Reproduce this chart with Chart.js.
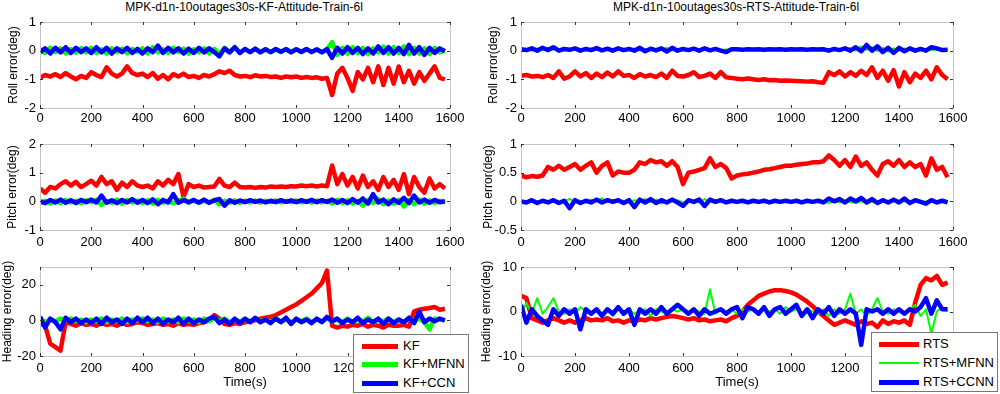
<!DOCTYPE html>
<html>
<head>
<meta charset="utf-8">
<script src="https://cdn.jsdelivr.net/npm/chart.js@4.4.0/dist/chart.umd.min.js"></script>
<style>
  body { margin: 0; background: #fff; }
  #wrap { position: relative; width: 1000px; height: 394px; overflow: hidden; font-family: "Liberation Sans", Arial, sans-serif; color: #000; }
  canvas { position: absolute; }
  .title { position: absolute; top: 0; font-size: 12px; line-height: 15px; white-space: nowrap; transform: translateX(-50%); }
  .legend { position: absolute; background: #fff; border: 1px solid #777; font-size: 13px; z-index: 5; }
  .legend .row { position: absolute; left: 0; right: 0; height: 16px; line-height: 16px; }
  .legend .sw { position: absolute; }
  .legend .lbl { position: absolute; white-space: nowrap; }
</style>
</head>
<body>
<div id="wrap">
  <div class="title" style="left:244px">MPK-d1n-10outages30s-KF-Attitude-Train-6l</div>
  <div class="title" style="left:736px">MPK-d1n-10outages30s-RTS-Attitude-Train-6l</div>
  <canvas id="p1"></canvas>
  <canvas id="p2"></canvas>
  <canvas id="p3"></canvas>
  <canvas id="p4"></canvas>
  <canvas id="p5"></canvas>
  <canvas id="p6"></canvas>
  <div class="legend" id="legKF" style="left:353px;top:334px;width:114px;height:57px"></div>
  <div class="legend" id="legRTS" style="left:871px;top:332px;width:125px;height:58px"></div>
</div>
<script>
// time axis (s), one sample every 20 s
const time = [0,20,40,60,80,100,120,140,160,180,200,220,240,260,280,300,320,340,360,380,
  400,420,440,460,480,500,520,540,560,580,600,620,640,660,680,700,720,740,760,780,
  800,820,840,860,880,900,920,940,960,980,1000,1020,1040,1060,1080,1100,1120,1140,1160,1180,
  1200,1220,1240,1260,1280,1300,1320,1340,1360,1380,1400,1420,1440,1460,1480,1500,1520,1540,1560,1580];

const xTicks = [0,200,400,600,800,1000,1200,1400,1600];
const rollTicks = [-2,-1,0,1];
const pitchTicksKF = [-1,0,1,2];
const pitchTicksRTS = [-0.5,0,0.5,1];
const headTicksKF = [-20,0,20];
const headTicksRTS = [-10,0,10];

const kfNames = ['KF','KF+MFNN','KF+CCN'];
const rtsNames = ['RTS','RTS+MFNN','RTS+CCNN'];

// roll, KF side
const rollKF = [-0.95,-0.85,-0.9,-0.82,-0.92,-0.78,-0.9,-1.0,-0.88,-0.95,
  -0.75,-0.85,-0.92,-0.58,-0.8,-0.9,-0.8,-0.55,-0.78,-0.85,
  -0.8,-0.92,-0.78,-0.98,-0.85,-1.0,-0.82,-0.9,-0.8,-0.92,
  -0.88,-0.95,-0.85,-0.9,-0.82,-0.72,-0.78,-0.7,-0.85,-0.9,
  -0.88,-0.92,-0.86,-0.9,-0.88,-0.92,-0.9,-0.95,-0.9,-0.93,
  -0.9,-0.95,-0.92,-0.95,-0.93,-0.98,-0.95,-1.55,-0.8,-0.6,
  -0.95,-1.4,-0.75,-1.0,-0.6,-1.1,-0.55,-1.2,-0.6,-1.15,
  -0.55,-1.1,-0.7,-1.15,-0.75,-1.05,-0.8,-0.55,-0.95,-1.0];
const rollKFMFNN = [0.05,-0.08,0.1,-0.05,0.08,-0.1,0.06,-0.07,0.09,-0.06,
  0.1,-0.08,0.05,-0.1,0.08,-0.05,0.07,-0.09,0.06,-0.04,
  0.08,-0.1,0.12,-0.06,0.05,-0.08,0.1,-0.05,0.07,-0.1,
  0.05,-0.06,0.08,-0.1,0.06,-0.12,0.1,-0.05,0.12,-0.07,
  0.05,-0.05,0.06,-0.04,0.05,-0.06,0.04,-0.05,0.06,-0.04,
  0.05,-0.06,0.04,-0.05,0.06,-0.05,0.05,0.3,-0.15,0.1,
  -0.1,0.12,-0.08,0.1,-0.12,0.08,-0.06,0.14,-0.1,0.12,
  -0.08,0.15,-0.12,0.1,-0.1,0.08,-0.12,0.1,-0.06,0.0];
const rollKFCCN = [-0.05,0.08,-0.1,0.1,-0.06,0.12,-0.08,0.1,-0.05,0.08,
  -0.08,0.12,-0.06,0.1,-0.1,0.08,-0.05,0.1,-0.08,0.06,
  -0.1,0.08,-0.05,0.18,-0.08,0.1,-0.06,0.08,-0.1,0.07,
  -0.08,0.1,-0.06,0.08,-0.05,-0.2,0.08,-0.06,0.12,-0.08,
  0.06,-0.05,0.07,-0.06,0.05,-0.05,0.06,-0.04,0.05,-0.06,
  0.05,-0.04,0.06,-0.05,0.04,-0.06,0.05,-0.25,0.1,-0.1,
  0.12,-0.08,0.1,-0.12,0.08,-0.1,0.15,-0.08,0.12,-0.1,
  0.1,-0.12,0.2,-0.1,0.12,-0.15,0.1,-0.08,0.08,-0.02];

// roll, RTS side
const rollRTS = [-0.88,-0.85,-0.9,-0.88,-0.92,-0.85,-0.95,-0.72,-0.98,-0.9,
  -0.72,-0.9,-0.78,-0.95,-0.8,-0.92,-0.76,-0.9,-0.72,-0.88,
  -0.85,-0.95,-0.82,-0.9,-0.85,-0.92,-0.8,-0.95,-0.7,-0.88,
  -0.9,-0.85,-0.75,-0.92,-0.88,-0.8,-0.95,-0.75,-0.93,-0.95,
  -0.98,-1.0,-0.97,-1.0,-1.02,-1.0,-1.03,-1.02,-1.05,-1.04,
  -1.05,-1.06,-1.07,-1.08,-1.07,-1.1,-1.12,-0.75,-0.85,-0.72,
  -0.9,-0.75,-0.88,-0.7,-0.85,-0.58,-0.95,-0.7,-1.05,-0.68,
  -1.25,-0.75,-1.1,-0.8,-0.95,-0.7,-1.0,-0.58,-0.85,-1.0];
const rollRTSMFNN = [0.03,0.06,0.0,0.08,0.02,0.1,0.03,0.07,0.01,0.05,
  0.02,0.07,0.0,0.08,0.03,0.06,0.01,0.07,0.02,0.05,
  0.03,0.08,0.0,0.06,0.02,0.05,0.04,0.1,0.0,0.06,
  0.08,0.0,0.05,0.03,0.06,0.0,0.05,0.02,0.04,0.03,
  0.04,0.05,0.03,0.05,0.04,0.05,0.03,0.05,0.04,0.05,
  0.04,0.05,0.03,0.05,0.04,0.05,0.03,0.05,0.03,0.06,
  0.02,0.1,0.0,0.15,0.02,0.12,-0.02,0.1,-0.04,0.08,
  0.0,0.08,0.02,0.07,0.0,0.06,0.02,0.05,0.0,0.03];
const rollRTSCCNN = [0.05,0.02,0.08,0.0,0.1,0.02,0.12,0.0,0.06,0.03,
  0.08,0.0,0.06,0.02,0.09,0.01,0.07,0.0,0.08,0.02,
  0.06,0.0,0.1,-0.02,0.07,0.01,0.08,-0.03,0.1,0.0,
  0.06,0.02,0.07,0.0,0.08,0.01,0.06,0.0,-0.05,0.05,
  0.05,0.03,0.05,0.04,0.05,0.03,0.05,0.04,0.05,0.03,
  0.05,0.04,0.05,0.03,0.05,0.04,0.05,0.0,0.06,0.02,
  0.08,0.0,0.12,-0.02,0.2,0.0,0.15,-0.05,0.1,-0.08,
  0.1,-0.02,0.08,0.0,0.06,0.0,0.12,0.08,0.02,0.03];

// pitch, KF side
const pitchKF = [0.45,0.3,0.5,0.45,0.6,0.7,0.55,0.68,0.5,0.6,
  0.72,0.55,0.85,0.6,0.7,0.4,0.65,0.5,0.7,0.55,
  0.5,0.55,0.45,0.7,0.55,0.75,0.6,0.95,0.15,0.6,
  0.5,0.55,0.48,0.5,0.52,0.78,0.55,0.5,0.65,0.5,
  0.48,0.5,0.47,0.5,0.48,0.52,0.5,0.52,0.5,0.53,
  0.52,0.55,0.53,0.55,0.52,0.55,0.53,1.25,0.6,0.95,
  0.55,0.85,0.45,0.9,0.5,0.7,0.4,0.85,0.5,0.75,
  0.4,0.95,0.25,0.85,0.5,0.3,0.8,0.45,0.6,0.45];
const pitchKFMFNN = [-0.05,0.02,-0.08,0.03,-0.06,0.05,-0.04,0.02,-0.07,0.04,
  -0.03,0.05,-0.12,0.02,-0.05,0.06,-0.08,0.05,-0.04,0.03,
  -0.06,0.04,-0.08,0.05,-0.05,0.03,-0.07,0.02,0.1,-0.05,
  0.03,-0.06,0.02,-0.04,0.06,-0.1,0.02,-0.05,0.04,-0.06,
  0.02,-0.04,0.03,-0.05,0.02,-0.03,0.03,-0.04,0.02,-0.03,
  0.03,-0.04,0.02,-0.05,0.03,-0.04,0.02,-0.08,0.05,-0.06,
  0.04,-0.08,0.02,-0.15,0.05,-0.06,0.08,-0.1,0.03,-0.08,
  0.05,-0.18,0.04,-0.1,0.06,-0.08,0.03,-0.06,0.02,-0.04];
const pitchKFCCN = [0.0,-0.06,0.05,-0.04,0.06,-0.05,0.04,-0.06,0.05,-0.03,
  0.06,-0.04,0.2,-0.05,0.04,-0.06,0.05,-0.04,0.08,-0.05,
  0.05,-0.06,0.07,-0.1,0.05,-0.04,0.25,-0.05,0.04,-0.03,
  0.05,-0.04,0.06,-0.05,0.03,0.08,-0.15,0.04,-0.05,0.03,
  -0.03,0.04,-0.02,0.03,-0.04,0.02,-0.03,0.04,-0.02,0.03,
  -0.03,0.04,-0.02,0.05,-0.03,0.04,-0.02,0.06,-0.05,0.05,
  -0.06,0.08,-0.05,0.1,-0.08,0.25,-0.04,0.06,-0.1,0.07,
  -0.05,0.12,-0.06,0.2,-0.04,0.06,-0.05,0.05,-0.03,0.0];

// pitch, RTS side
const pitchRTS = [0.45,0.42,0.44,0.43,0.45,0.6,0.55,0.62,0.55,0.6,
  0.65,0.55,0.62,0.68,0.5,0.62,0.68,0.45,0.52,0.5,
  0.5,0.55,0.68,0.65,0.72,0.68,0.7,0.62,0.7,0.6,
  0.3,0.5,0.52,0.55,0.58,0.75,0.6,0.65,0.58,0.4,
  0.45,0.47,0.48,0.5,0.52,0.55,0.56,0.58,0.6,0.62,
  0.62,0.64,0.65,0.66,0.68,0.68,0.7,0.8,0.72,0.62,
  0.72,0.6,0.78,0.62,0.68,0.55,0.45,0.65,0.7,0.62,
  0.72,0.6,0.68,0.6,0.65,0.45,0.75,0.55,0.6,0.42];
const pitchRTSMFNN = [0.01,0.0,0.01,-0.01,0.02,0.0,0.01,-0.01,0.0,0.04,
  0.0,0.01,-0.02,0.03,0.0,0.05,-0.01,0.02,0.0,0.01,
  -0.01,0.02,0.0,0.04,-0.02,0.03,-0.04,0.01,0.0,0.02,
  -0.02,0.0,0.01,-0.02,0.04,-0.01,0.02,0.03,0.0,-0.01,
  0.0,0.0,-0.01,0.0,0.0,-0.01,0.0,0.0,-0.01,0.0,
  0.0,-0.01,0.0,0.0,-0.01,0.0,0.0,-0.03,0.0,-0.02,
  0.0,-0.01,-0.03,0.0,-0.02,-0.01,-0.04,0.0,-0.02,0.0,
  -0.01,0.0,-0.01,0.0,-0.02,0.0,-0.01,0.0,0.0,-0.01];
const pitchRTSCCNN = [0.0,-0.02,0.02,-0.03,0.01,-0.02,0.02,-0.03,0.01,-0.12,
  0.02,-0.03,0.01,-0.02,0.03,-0.02,0.02,-0.01,0.02,-0.03,
  0.02,-0.1,0.03,-0.02,0.04,-0.03,0.02,-0.02,0.03,-0.02,
  -0.08,0.02,-0.01,0.03,-0.08,0.03,-0.01,0.02,-0.02,0.01,
  -0.01,0.01,-0.02,0.01,-0.01,0.01,-0.02,0.01,-0.01,0.01,
  -0.01,0.01,-0.02,0.01,-0.01,0.01,-0.02,0.05,0.0,0.04,
  -0.02,0.05,0.0,0.06,-0.02,0.04,-0.03,0.02,-0.02,0.03,
  -0.02,0.05,-0.03,0.02,-0.01,-0.04,0.02,-0.02,0.01,-0.02];

// heading, KF side
const headKF = [-2,-3,-13,-15,-17,-1,-2,-3,-1.5,-2.5,
  -2,-3,-1.5,-2.5,-2,-3,-1.5,-2.5,-2,-1,
  -1.5,-2.5,-2,-1.5,-2.5,-2,-3,-1.5,-2.5,-2,
  -2.5,-1.5,-1,0,3,1,-2,-2.5,-1.5,-2,
  -1,-0.5,0,1,1.5,2,3,4.5,6,7.5,
  9,11,13,15,18,21,28,-3,-4,-3,
  -3.5,-2.5,-3,-2,-3.5,-2.5,-3,-4,-2.5,-3,
  -3,-2.5,-3.5,5,6,6.5,7,7.5,6,6.5];
const headKFMFNN = [1,-1,0.5,-0.5,1,0,1,-0.5,0.5,-1,
  0.5,-0.5,1,-1,0.5,-0.5,1,-1,0.5,0,
  1,-0.5,0.5,-1,1,-0.5,0.5,-1,1,-0.5,
  0.5,-1,1,-0.5,1.5,-0.5,1,-1,0.5,-0.5,
  0.5,-0.5,1,-0.5,0.5,-1,1,-0.5,0.5,-1,
  0.5,-0.5,1,-1,0.5,-0.5,1,-0.5,0.5,-1,
  1,-1,0.5,-0.5,1.5,-1,0.5,-0.5,1,-1,
  0.5,-1,1,-0.5,1,-1,-5,1,0.5,0];
const headKFCCN = [2,-4,1,-1,-5,1.5,-1,1,-1.5,0.5,
  -1.5,1,-2,1.5,-1,0.5,-2,1,-1.5,1.5,
  -1,1.5,-1.5,1,-2,0.5,-1,1.5,-2,1,
  -1.5,0.5,-1,1,2,-1.5,0.5,-2,1,-1.5,
  1,-1,1.5,-1,0.5,-1.5,1,-1,1.5,-2,
  1,-1,0.5,-1.5,1,-1,2,-0.5,1,-1.5,
  0.5,-1,1.5,-1.5,0.5,-1,1,-2,1,-1.5,
  0.5,-1,1.5,-1.5,5,-1,1,-0.5,1,0];

// heading, RTS side
const headRTS = [3.5,3,-1.5,-2,-2.5,-2,-1.5,-2,-2.5,-2,
  -2.5,-2,-1.5,-2,-1.8,-2,-1.5,-2.2,-2,-2.5,
  -2,-2.2,-1.8,-2,-1.5,-1.8,-1.5,-1.2,-1,-1.2,
  -1.5,-1.8,-1.5,-2,-1.8,-2.2,-2,-1.8,-2.2,-1.5,
  -1,0,1.5,2.5,3.5,4,4.5,4.8,4.8,4.6,
  4.3,3.8,3,2.2,1.2,0,-1,-2,-3,-2.5,
  -2,-2.5,-3,-2.2,-2.8,-2.5,-3.5,-2,-2.8,-2.2,
  -2.5,-2,-3,2,6,7.5,7,8,6,6.5];
const headRTSMFNN = [-1,2,-0.5,3,-0.5,1,3,0,-0.5,0.5,
  -0.5,1,0,-0.5,0.5,-0.5,0.5,-1,0.5,0,
  0.5,-0.5,0,0.5,-1,0.5,0,-0.5,0.5,0,
  0.5,-0.5,0.5,0,-0.5,5,-0.5,0.5,0,0.5,
  -0.5,0.5,0,0.5,-0.5,0.5,0,0.5,-0.5,1,
  0,0.5,-0.5,0.5,0,-0.5,0.5,-1,0.5,-0.5,
  0.5,4,-0.5,0.5,-1,0.5,3,0,-0.5,0.5,
  0,-0.5,0.5,1.5,-1,0.5,-5,0,1,0];
const headRTSCCNN = [1.5,-2.5,0.5,-1,-2,-3,0.5,-1,0.5,-0.5,
  0.5,-4,0.5,-0.5,0.5,-1,0.5,-0.5,1,-0.5,
  0.5,-3,0.5,-0.5,0.5,-0.5,1,-0.5,0.5,1.5,
  0.5,-0.5,0.5,-1,0.5,-0.5,0,0.5,-0.5,0.5,
  1,-1.5,1,0.5,-0.5,1,-1,0.5,1,-0.5,
  0.5,1.5,-1,0.5,-1.5,0.5,-0.5,1,-1,0.5,
  -0.5,0.5,-0.5,-7.5,0.5,0,0.5,-0.5,0.5,-0.5,
  0.5,-0.5,0.5,0,1,3,-0.5,2.5,0.5,0.5];

const colors = ['#ff0000', '#00ff00', '#0000ff'];
const FONT = '"Liberation Sans", Arial, sans-serif';

// matlab-ish frame with small inward tick marks
const boxPlugin = {
  id: 'box',
  afterDraw(chart) {
    const { ctx, chartArea: a, scales: { x, y } } = chart;
    ctx.save();
    ctx.strokeStyle = '#c6c6c6';
    ctx.lineWidth = 1;
    ctx.strokeRect(Math.round(a.left) + 0.5, Math.round(a.top) + 0.5, Math.round(a.right - a.left), Math.round(a.bottom - a.top));
    ctx.strokeStyle = '#333';
    ctx.beginPath();
    x.ticks.forEach(t => {
      const px = Math.round(x.getPixelForValue(t.value)) + 0.5;
      ctx.moveTo(px, a.top); ctx.lineTo(px, a.top + 3);
      ctx.moveTo(px, a.bottom); ctx.lineTo(px, a.bottom - 3);
    });
    y.ticks.forEach(t => {
      const py = Math.round(y.getPixelForValue(t.value)) + 0.5;
      ctx.moveTo(a.left, py); ctx.lineTo(a.left + 3, py);
      ctx.moveTo(a.right, py); ctx.lineTo(a.right - 3, py);
    });
    ctx.stroke();
    ctx.restore();
  }
};

function makePanel(p) {
  const canvas = document.getElementById(p.id);
  canvas.width = p.w;
  canvas.height = p.h;
  canvas.style.left = p.left + 'px';
  canvas.style.top = p.top + 'px';

  const datasets = p.series.map((arr, i) => ({
    label: p.names[i],
    data: time.map((t, k) => ({ x: t, y: arr[k] })),
    borderColor: colors[i],
    borderWidth: p.widths[i],
    borderJoinStyle: 'round',
    pointRadius: 0,
    tension: 0,
    order: 2 - i
  }));

  new Chart(canvas, {
    type: 'line',
    data: { datasets },
    options: {
      responsive: false,
      animation: false,
      events: [],
      layout: { padding: { top: p.padTop, right: p.padRight, left: 0, bottom: 0 } },
      plugins: { legend: { display: false }, tooltip: { enabled: false } },
      scales: {
        x: {
          type: 'linear',
          min: 0,
          max: 1600,
          afterBuildTicks: s => { s.ticks = xTicks.map(v => ({ value: v })); },
          afterFit: s => { s.height = p.xH; },
          grid: { display: false, drawTicks: false },
          border: { display: false },
          ticks: { color: '#000', font: { family: FONT, size: 13 }, padding: p.xPad, maxRotation: 0, autoSkip: false, callback: v => String(v) },
          title: { display: !!p.xTitle, text: p.xTitle || '', color: '#000', font: { family: FONT, size: 13 }, padding: { top: 0, bottom: 4 } }
        },
        y: {
          min: p.min,
          max: p.max,
          afterBuildTicks: s => { s.ticks = p.ticks.map(v => ({ value: v })); },
          afterFit: s => { s.width = p.yW; },
          grid: { display: false, drawTicks: false },
          border: { display: false },
          ticks: { color: '#000', font: { family: FONT, size: 13 }, padding: 4, callback: v => String(v) },
          title: { display: true, text: p.yTitle, color: '#000', font: { family: FONT, size: 12 }, padding: { top: p.yTitlePad, bottom: 0 } }
        }
      }
    },
    plugins: [boxPlugin]
  });
}

const thickW = [4.5, 4.5, 4.5];
const thinGreenW = [4.5, 2, 4.5];

makePanel({ id: 'p1', left: 0, top: 0, w: 475, h: 130, padTop: 22, padRight: 25, yW: 40, xH: 22, xPad: 3,
  min: -2, max: 1, ticks: rollTicks, yTitle: 'Roll error(deg)', yTitlePad: 6,
  series: [rollKF, rollKFMFNN, rollKFCCN], names: kfNames, widths: thickW });
makePanel({ id: 'p2', left: 475, top: 0, w: 525, h: 130, padTop: 22, padRight: 47, yW: 46, xH: 22, xPad: 3,
  min: -2, max: 1, ticks: rollTicks, yTitle: 'Roll error(deg)', yTitlePad: 11,
  series: [rollRTS, rollRTSMFNN, rollRTSCCNN], names: rtsNames, widths: thinGreenW });
makePanel({ id: 'p3', left: 0, top: 130, w: 475, h: 122, padTop: 14, padRight: 25, yW: 40, xH: 22, xPad: 5,
  min: -1, max: 2, ticks: pitchTicksKF, yTitle: 'Pitch error(deg)', yTitlePad: 5,
  series: [pitchKF, pitchKFMFNN, pitchKFCCN], names: kfNames, widths: thickW });
makePanel({ id: 'p4', left: 475, top: 130, w: 525, h: 122, padTop: 14, padRight: 47, yW: 46, xH: 22, xPad: 5,
  min: -0.5, max: 1, ticks: pitchTicksRTS, yTitle: 'Pitch error(deg)', yTitlePad: 6,
  series: [pitchRTS, pitchRTSMFNN, pitchRTSCCNN], names: rtsNames, widths: thinGreenW });
makePanel({ id: 'p5', left: 0, top: 252, w: 475, h: 142, padTop: 15, padRight: 25, yW: 40, xH: 38, xPad: 5,
  min: -20, max: 30, ticks: headTicksKF, yTitle: 'Heading error(deg)', yTitlePad: 0, xTitle: 'Time(s)',
  series: [headKF, headKFMFNN, headKFCCN], names: kfNames, widths: thickW });
makePanel({ id: 'p6', left: 475, top: 252, w: 525, h: 142, padTop: 15, padRight: 47, yW: 46, xH: 38, xPad: 5,
  min: -10, max: 10, ticks: headTicksRTS, yTitle: 'Heading error(deg)', yTitlePad: 4, xTitle: 'Time(s)',
  series: [headRTS, headRTSMFNN, headRTSCCNN], names: rtsNames, widths: thinGreenW });

// legends drawn as html boxes
function buildLegend(id, names, widths, rowY, swLeft, swWidth, textLeft) {
  const box = document.getElementById(id);
  names.forEach((name, i) => {
    const row = document.createElement('div');
    row.className = 'row';
    row.style.top = (rowY[i] - 8) + 'px';
    const sw = document.createElement('span');
    sw.className = 'sw';
    sw.style.left = swLeft + 'px';
    sw.style.width = swWidth + 'px';
    sw.style.height = widths[i] + 'px';
    sw.style.top = (8 - widths[i] / 2) + 'px';
    sw.style.background = colors[i];
    const lbl = document.createElement('span');
    lbl.className = 'lbl';
    lbl.style.left = textLeft + 'px';
    lbl.textContent = name;
    row.appendChild(sw);
    row.appendChild(lbl);
    box.appendChild(row);
  });
}

buildLegend('legKF', kfNames, [5, 5, 5], [11, 29, 48], 8, 36, 49);
buildLegend('legRTS', rtsNames, [5, 2, 5], [11, 30, 49], 7, 40, 51);
</script>
</body>
</html>
